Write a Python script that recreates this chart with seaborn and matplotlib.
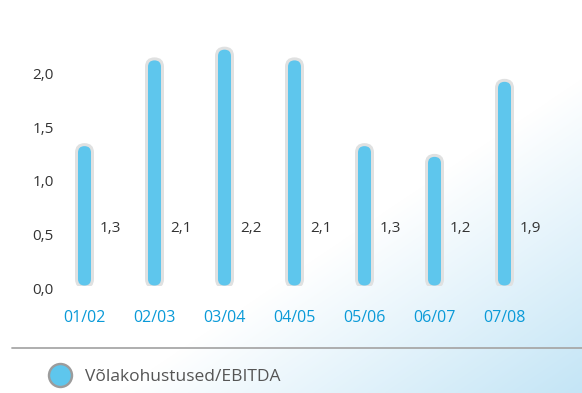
import numpy as np
import pandas as pd
import seaborn as sns
import matplotlib
matplotlib.use("Agg")
import matplotlib.pyplot as plt
import matplotlib.transforms as mtransforms
from matplotlib.patches import FancyBboxPatch
from matplotlib.lines import Line2D

# Data
periods = ["01/02", "02/03", "03/04", "04/05", "05/06", "06/07", "07/08"]
ratio = [1.3, 2.1, 2.2, 2.1, 1.3, 1.2, 1.9]
value_labels = ["1,3", "2,1", "2,2", "2,1", "1,3", "1,2", "1,9"]
y_ticks = [0.0, 0.5, 1.0, 1.5, 2.0]
y_tick_labels = ["0,0", "0,5", "1,0", "1,5", "2,0"]
series_name = "Võlakohustused/EBITDA"

df = pd.DataFrame({"period": periods, "ratio": ratio})

sns.set_theme(style="white")
plt.rcParams["font.family"] = ["Open Sans", "DejaVu Sans"]

W, H, DPI = 582, 393, 100
fig = plt.figure(figsize=(W / DPI, H / DPI), dpi=DPI)

# Soft diagonal background wash: white top-left to pale blue bottom-right
bg = fig.add_axes([0, 0, 1, 1], zorder=-10)
xx, yy = np.meshgrid(np.linspace(0, 1, W), np.linspace(0, 1, H))
s = xx + yy
t = np.clip((s - 1.2) / 0.8, 0, 1)
white = np.array([1.0, 1.0, 1.0])
blue = np.array([0xc4, 0xe5, 0xf6]) / 255
img = white[None, None, :] * (1 - t[..., None]) + blue[None, None, :] * t[..., None]
bg.imshow(img, aspect="auto", extent=[0, 1, 0, 1], origin="upper")
bg.set_axis_off()

# Plot area geometry (pixels)
px_per_cat = 70.0
px_per_unit = 107.2
zero_px = 285.5
left_px = 84.5 - px_per_cat / 2
ax = fig.add_axes([left_px / W, (H - zero_px) / H,
                   7 * px_per_cat / W, 2.4 * px_per_unit / H])
ax.set_facecolor("none")

bar_w_px = 13.0
rim_px = 3.0
bar_color = "#5ec6ed"
sns.barplot(data=df, x="period", y="ratio", ax=ax, color=bar_color,
            width=bar_w_px / px_per_cat, saturation=1, errorbar=None)

ax.set_xlim(-0.5, 6.5)
ax.set_ylim(0, 2.4)

# Turn the rectangular bars into capsules with a light grey rim
aspect = px_per_cat / px_per_unit
pad = rim_px / px_per_cat
rects = list(ax.patches)
for p in rects:
    x0, w, h = p.get_x(), p.get_width(), p.get_height()
    rim = FancyBboxPatch((x0, 0), w, h,
                         boxstyle=f"round,pad={pad},rounding_size={w / 2 + pad}",
                         mutation_aspect=aspect, facecolor="#e0e1e1",
                         edgecolor="none", zorder=2)
    body = FancyBboxPatch((x0, 0), w, h,
                          boxstyle=f"round,pad=0,rounding_size={w / 2}",
                          mutation_aspect=aspect, facecolor=bar_color,
                          edgecolor="none", zorder=3)
    ax.add_patch(rim)
    ax.add_patch(body)
    p.remove()

# Value labels beside each bar
for i, lab in enumerate(value_labels):
    ax.text(i + 15.5 / px_per_cat, (zero_px - 228) / px_per_unit, lab,
            ha="left", va="center", fontsize=11, color="#333333")

sns.despine(ax=ax, left=True, bottom=True)
ax.set_xlabel("")
ax.set_ylabel("")
ax.set_yticks(y_ticks)
ax.set_yticklabels(y_tick_labels, fontsize=11, color="#333333")
ax.tick_params(axis="y", length=0, pad=-3)
shift = mtransforms.ScaledTranslation(0, -2.5 / DPI, fig.dpi_scale_trans)
for lab in ax.get_yticklabels():
    lab.set_transform(lab.get_transform() + shift)
ax.set_xticks(range(len(periods)))
ax.set_xticklabels(periods, fontsize=11.5, color="#0a9ad8")
ax.tick_params(axis="x", length=0, pad=18)
ax.grid(False)

# Separator line above the legend
fig.add_artist(Line2D([12 / W, 1], [1 - 347.5 / H] * 2, color="#a8a8a8",
                      lw=1.3, transform=fig.transFigure))

# Legend
legend_fs = 12.5
handle = Line2D([], [], linestyle="none", marker="o",
                markersize=23 * 72 / DPI,
                markerfacecolor=bar_color, markeredgecolor="#9c9c9c",
                markeredgewidth=2.4 * 72 / DPI)
fig.legend(handles=[handle], labels=[series_name], loc="center left",
           bbox_to_anchor=(50.5 / W, 1 - 377 / H), frameon=False,
           handlelength=1.1, handletextpad=0.89, fontsize=legend_fs,
           labelcolor="#555555", borderaxespad=0, borderpad=0)

fig.savefig("out.png", dpi=DPI)
